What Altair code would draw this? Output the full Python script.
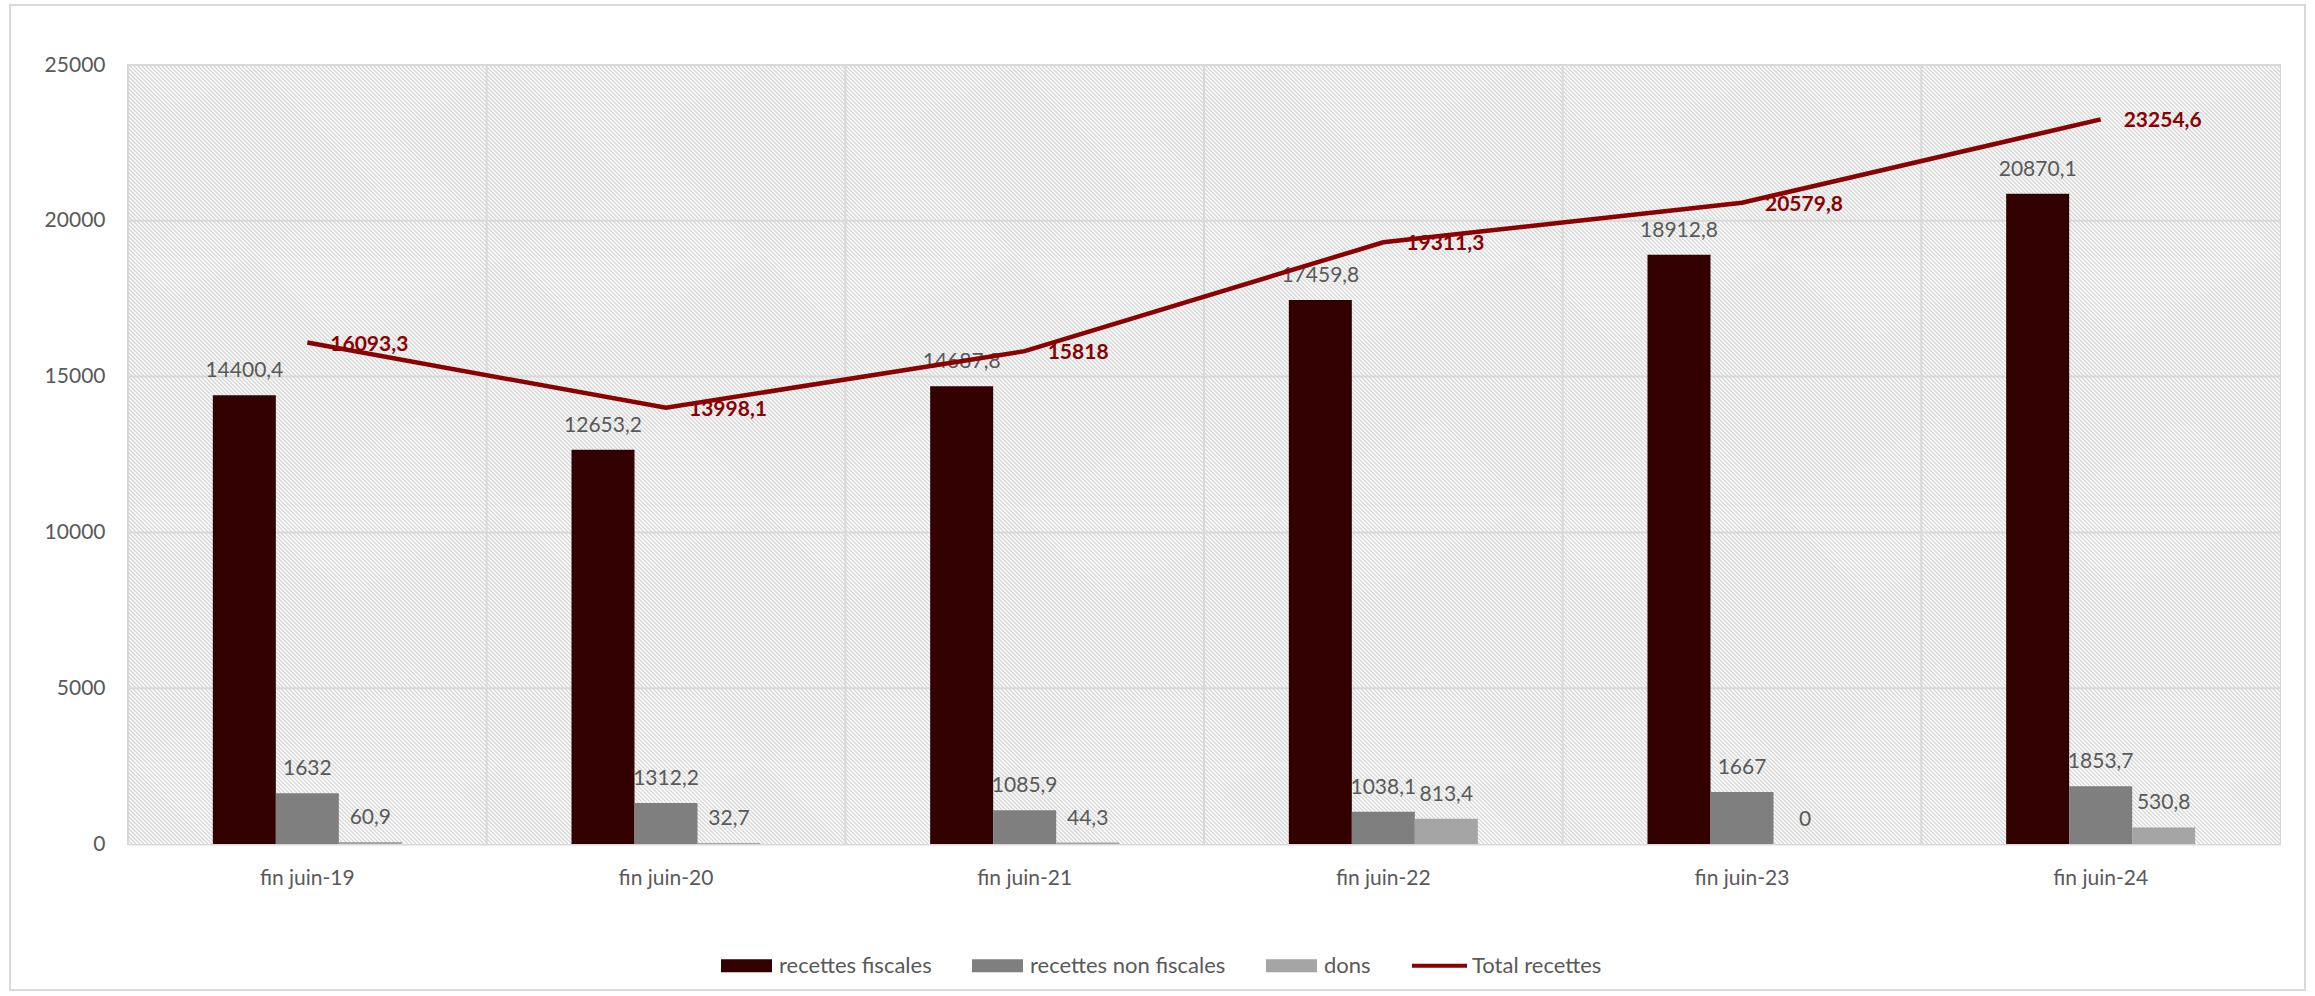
import altair as alt
import pandas as pd

# ---------------- data ----------------
categories = ["fin juin-19", "fin juin-20", "fin juin-21", "fin juin-22", "fin juin-23", "fin juin-24"]
recettes_fiscales = [14400.4, 12653.2, 14687.8, 17459.8, 18912.8, 20870.1]
recettes_non_fiscales = [1632, 1312.2, 1085.9, 1038.1, 1667, 1853.7]
dons = [60.9, 32.7, 44.3, 813.4, 0, 530.8]
total_recettes = [16093.3, 13998.1, 15818, 19311.3, 20579.8, 23254.6]
series_names = ["recettes fiscales", "recettes non fiscales", "dons", "Total recettes"]
series_colors = ["#330000", "#7f7f7f", "#a5a5a5", "#8b0000"]
y_ticks = [0, 5000, 10000, 15000, 20000, 25000]

# ---------------- layout ----------------
W, H = 2152, 779
PAD = {"left": 128, "top": 65, "right": 35, "bottom": 152}
FONT = "Lato"
TXT = "#595959"
GRID = "#d9d9d9"


def fmt(v):
    return f"{v:g}".replace(".", ",")


rows = []
for i, c in enumerate(categories):
    for name, vals in zip(series_names[:3], [recettes_fiscales, recettes_non_fiscales, dons]):
        rows.append({"cat": c, "series": name, "value": vals[i], "label": fmt(vals[i])})
bars_df = pd.DataFrame(rows)
total_df = pd.DataFrame({"cat": categories, "value": total_recettes,
                         "label": [fmt(v) for v in total_recettes]})
hgrid_df = pd.DataFrame({"value": y_ticks[1:]})
cat_df = pd.DataFrame({"cat": categories})
one_df = pd.DataFrame({"k": [0]})

# background hatch texture: 45-degree downward diagonal lines, 4 px apart (decoration only)
hatch_start = list(range(-H, W + 1, 4))
hatch_df = pd.DataFrame({"hx": hatch_start,
                         "hx2": [v + H for v in hatch_start],
                         "hy": [0] * len(hatch_start),
                         "hy2": [H] * len(hatch_start)})

x_axis = alt.Axis(title=None, labelAngle=0, ticks=False, tickSize=0, grid=False,
                  domainColor=GRID, domainWidth=2, labelFont=FONT, labelFontSize=21,
                  labelColor=TXT, labelPadding=23)
y_axis = alt.Axis(title=None, values=y_ticks, format="d", ticks=False, tickSize=0,
                  grid=False, domain=False, labelFont=FONT, labelFontSize=21,
                  labelColor=TXT, labelPadding=23)
x_scale = alt.Scale(domain=categories, paddingInner=0, paddingOuter=0)
y_scale = alt.Scale(domain=[0, 25000], nice=False, zero=True)

# sub-band domain: two empty slots frame the three bars of each group
offset_domain = ["_gap_a"] + series_names[:3] + ["_gap_b"]

x_enc = alt.X("cat:N", sort=categories, scale=x_scale, axis=x_axis)
y_enc = alt.Y("value:Q", scale=y_scale, axis=y_axis)
xoff_enc = alt.XOffset("series:N",
                       scale=alt.Scale(domain=offset_domain, paddingInner=0, paddingOuter=0.3465))

bg = alt.Chart(one_df).mark_rect(color="#ffffff").encode(
    x=alt.value(0), x2=alt.value(W), y=alt.value(0), y2=alt.value(H))

hatch = alt.Chart(hatch_df).mark_rule(color="#d6d6d6", strokeWidth=1.35, clip=True).encode(
    x=alt.X("hx:Q", scale=None, axis=None), x2="hx2:Q",
    y=alt.Y("hy:Q", scale=None, axis=None), y2="hy2:Q")

vgrid = alt.Chart(cat_df).mark_rule(color=GRID, strokeWidth=2).encode(
    x=alt.X("cat:N", sort=categories, scale=x_scale, axis=x_axis, bandPosition=0),
    y=alt.value(0), y2=alt.value(H))

hgrid = alt.Chart(hgrid_df).mark_rule(color=GRID, strokeWidth=2).encode(
    y=y_enc, x=alt.value(0), x2=alt.value(W))

legend = alt.Legend(
    title=None, orient="none", legendX=593, legendY=875, direction="horizontal",
    columns=4, padding=0, labelFont=FONT, labelFontSize=22, labelColor=TXT,
    labelLimit=500, symbolSize=2601, labelOffset=7, columnPadding=40,
    symbolStrokeWidth=0, symbolOpacity=1,
    symbolType={"expr": "datum.value === 'Total recettes' ? 'M-1.08,-0.08H1.08V0.08H-1.08Z' : 'M-1,-0.255H1V0.255H-1Z'"},
)

bars = alt.Chart(bars_df).mark_bar().encode(
    x=x_enc, xOffset=xoff_enc, y=y_enc,
    color=alt.Color("series:N", scale=alt.Scale(domain=series_names, range=series_colors),
                    legend=legend),
)

bar_text = alt.Chart(bars_df).mark_text(
    dy=-18, baseline="alphabetic", align="center", font=FONT, fontSize=21, color=TXT
).encode(x=x_enc, xOffset=xoff_enc, y=y_enc, text="label:N")

line = alt.Chart(total_df).mark_line(color="#8b0000", strokeWidth=4.5).encode(
    x=x_enc, y=y_enc)

line_text = alt.Chart(total_df).mark_text(
    dx=23, dy=2, align="left", baseline="middle", font=FONT, fontSize=21,
    fontWeight="bold", color="#8b0000"
).encode(x=x_enc, y=y_enc, text="label:N")

frame = alt.Chart(one_df).mark_rect(fillOpacity=0, stroke=GRID, strokeWidth=2).encode(
    x=alt.value(-118), x2=alt.value(2177), y=alt.value(-60), y2=alt.value(925))

chart = alt.layer(bg, hatch, vgrid, hgrid, bars, bar_text, line, line_text, frame).properties(
    width=W, height=H,
    autosize=alt.AutoSizeParams(type="none"),
    padding=PAD,
    background="#ffffff",
).configure_view(stroke=GRID, strokeWidth=2)

chart.save("out.html", embed_options={"renderer": "svg", "actions": False})
